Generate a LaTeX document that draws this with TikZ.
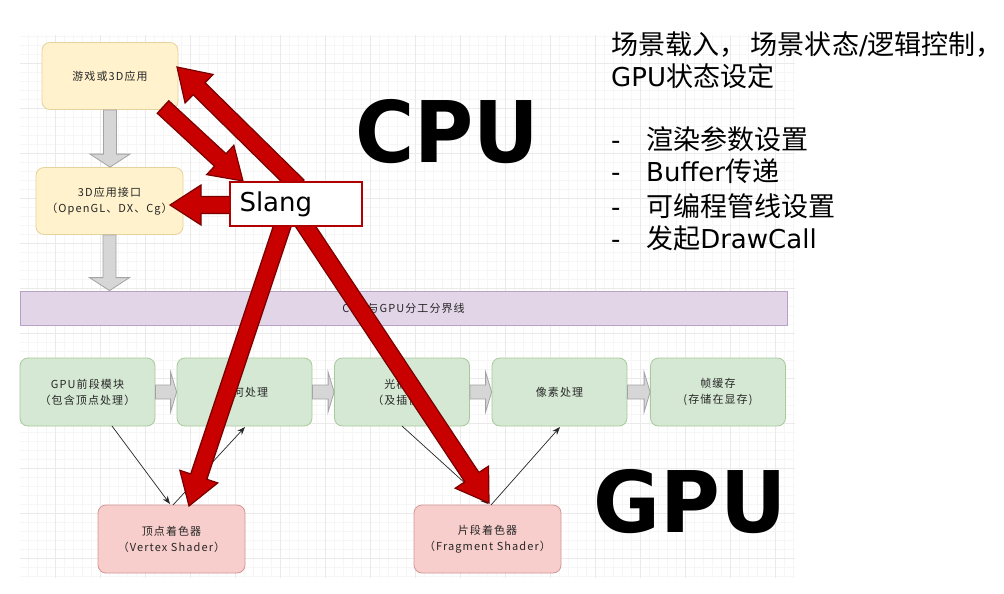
\documentclass[tikz,border=0pt]{standalone}
\usepackage{graphicx}
\usepackage{fontspec}
\setmainfont{DejaVu Sans}
\newfontfamily\cjk[Scale=1.04]{Noto Sans CJK SC}
\newfontfamily\cjkbox[LetterSpace=10]{Noto Sans CJK SC}
\usetikzlibrary{calc,arrows.meta}
\definecolor{yfill}{HTML}{FFF2CC}
\definecolor{ybord}{HTML}{E6D29B}
\definecolor{gfill}{HTML}{D5E8D4}
\definecolor{gbord}{HTML}{A9C99B}
\definecolor{pfill}{HTML}{F8CECC}
\definecolor{pbord}{HTML}{D39795}
\definecolor{ufill}{HTML}{E1D5E7}
\definecolor{ubord}{HTML}{B7A1C4}
\definecolor{txt}{HTML}{262626}
\definecolor{gridmaj}{HTML}{EAEAEA}
\definecolor{gridmin}{HTML}{F6F6F6}
\definecolor{redfill}{HTML}{C80000}
\definecolor{redbord}{HTML}{7A0000}
\definecolor{slangbord}{HTML}{B00000}
\definecolor{arrfill}{HTML}{D6D6D6}
\definecolor{arrbord}{HTML}{A4A4A4}
\newcommand\redarrow[2]{%
  \coordinate (ra-m) at ($(#2)!31pt!(#1)$);
  \filldraw[rarrow] ($(#1)!8.5pt!90:(#2)$) -- ($(ra-m)!8.5pt!90:(#2)$)
    -- ($(ra-m)!20pt!90:(#2)$) -- (#2) -- ($(ra-m)!20pt!-90:(#2)$)
    -- ($(ra-m)!8.5pt!-90:(#2)$) -- ($(#1)!8.5pt!-90:(#2)$) -- cycle;}
\newcommand\grayarrowdown[2]{%
  \filldraw[garrow] let \p1=(#1.south), \p2=(#2.north) in
    (\x1-6.5pt,\y1) -- (\x1-6.5pt,\y2+13pt) -- (\x1-20pt,\y2+13pt) -- (\x1,\y2)
    -- (\x1+20pt,\y2+13pt) -- (\x1+6.5pt,\y2+13pt) -- (\x1+6.5pt,\y1) -- cycle;}
\newcommand\grayarrowright[2]{%
  \filldraw[garrow] let \p1=(#1.east), \p2=(#2.west) in
    (\x1,\y1+7pt) -- (\x2-6pt,\y1+7pt) -- (\x2-6pt,\y1+20pt) -- (\x2,\y1)
    -- (\x2-6pt,\y1-20pt) -- (\x2-6pt,\y1-7pt) -- (\x1,\y1-7pt) -- cycle;}
\begin{document}
\begin{tikzpicture}[x=1pt,y=-1pt,
  basebox/.style={rounded corners=8pt, line width=0.8pt, align=center,
    inner sep=0pt, text=txt, font=\cjkbox\fontsize{11}{16}\selectfont},
  ybox/.style={basebox, draw=ybord, fill=yfill, minimum height=67pt},
  gbox/.style={basebox, draw=gbord, fill=gfill, minimum width=135pt, minimum height=68pt},
  pbox/.style={basebox, draw=pbord, fill=pfill, minimum width=147pt, minimum height=68pt},
  band/.style={basebox, rounded corners=0pt, draw=ubord, fill=ufill, minimum width=767pt, minimum height=34pt},
  garrow/.style={draw=arrbord, fill=arrfill, line width=0.8pt},
  rarrow/.style={draw=redbord, fill=redfill, line width=1.2pt, line join=miter},
  thin/.style={draw=txt, line width=0.7pt, -{Stealth[length=8pt,width=6pt]}},
  slang/.style={draw=slangbord, fill=white, line width=2.4pt, minimum width=132pt,
    minimum height=44pt, text width=113pt, align=left, inner sep=0pt,
    font=\fontsize{26}{30}\selectfont},
  big/.style={anchor=base west, inner sep=0pt, font=\bfseries\fontsize{85}{85}\selectfont},
  note/.style={anchor=base west, inner sep=0pt, font=\fontsize{26}{32}\selectfont}]
\fill[white] (0,0) rectangle (1004,594);
\useasboundingbox (0,0) rectangle (1004,594);
% grid
\foreach \x in {28,37,...,795} \draw[gridmin, line width=0.5pt] (\x,35) -- (\x,578);
\foreach \y in {36,45,...,578} \draw[gridmin, line width=0.5pt] (20,\y) -- (795,\y);
\foreach \x in {55,100,...,795} \draw[gridmaj, line width=0.6pt] (\x,35) -- (\x,578);
\foreach \y in {63,108,...,578} \draw[gridmaj, line width=0.6pt] (20,\y) -- (795,\y);
% nodes
\node[ybox, minimum width=136pt] (app) at (110,76) {游戏或3D应用};
\node[ybox, minimum width=147pt] (api) at (109.5,201) {3D应用接口\\（OpenGL、DX、Cg）};
\node[band] (sep) at (403.5,308) {CPU与GPU分工分界线};
\node[gbox] (g1) at (87.5,392) {GPU前段模块\\（包含顶点处理）};
\node[gbox] (g2) at (244.5,392) {几何处理};
\node[gbox] (g3) at (402,392) {光栅化\\（及插值）};
\node[gbox] (g4) at (559.5,392) {像素处理};
\node[gbox] (g5) at (718,392) {帧缓存\\(存储在显存)};
\node[pbox] (vs) at (171.5,539) {顶点着色器\\（Vertex Shader）};
\node[pbox] (fs) at (487.5,539) {片段着色器\\（Fragment Shader）};
% gray block arrows
\grayarrowdown{app}{api}
\grayarrowdown{api}{sep}
\grayarrowright{g1}{g2}
\grayarrowright{g2}{g3}
\grayarrowright{g3}{g4}
\grayarrowright{g4}{g5}
% thin arrows
\coordinate (g1o) at (112,426);
\coordinate (vsi) at (170,504);
\coordinate (vso) at (173,505);
\coordinate (g2i) at (245,427);
\coordinate (g3o) at (402,426);
\coordinate (fsi) at (488,504);
\coordinate (fso) at (491,505);
\coordinate (g4i) at (560,427);
\draw[thin] (g1o) -- (vsi);
\draw[thin] (vso) -- (g2i);
\draw[thin] (g3o) -- (fsi);
\draw[thin] (fso) -- (g4i);
% big labels
\node[big] (cpu) at (355,162) {\scalebox{0.95}[1]{CPU}};
\node[big] (gpu) at (593,532) {\scalebox{0.96}[1]{GPU}};
% notes
\node[note] (n1) at (611,54.5) {{\cjk 场景载入，\,场景状态}/{\cjk 逻辑控制，}};
\node[note] (n2) at (611,86.5) {GPU{\cjk 状态设定}};
\node[note] (n3) at (611,149.5) {\makebox[35pt][l]{-}{\cjk 渲染参数设置}};
\node[note] (n4) at (611,181.5) {\makebox[35pt][l]{-}Buffer{\cjk 传递}};
\node[note] (n5) at (611,216) {\makebox[35pt][l]{-}{\cjk 可编程管线设置}};
\node[note] (n6) at (611,248) {\makebox[35pt][l]{-}{\cjk 发起}DrawCall};
% red arrows
\coordinate (s1) at (298,186);
\coordinate (t1) at (177,67);
\coordinate (s2) at (163,107);
\coordinate (t2) at (243,181);
\coordinate (s3) at (234,205);
\coordinate (t3) at (170,205);
\coordinate (s4) at (286,215);
\coordinate (t4) at (189,506);
\coordinate (s5) at (298,215);
\coordinate (t5) at (489,503);
\redarrow{s1}{t1}
\redarrow{s2}{t2}
\redarrow{s3}{t3}
\redarrow{s4}{t4}
\redarrow{s5}{t5}
\node[slang] (sl) at (296,204) {Slang};
\end{tikzpicture}
\end{document}
